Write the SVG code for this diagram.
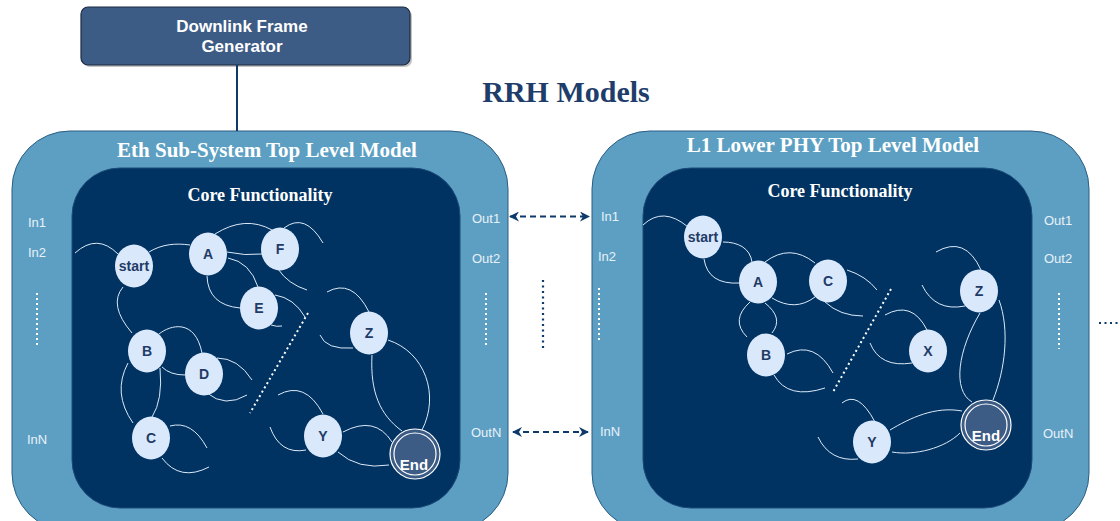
<svg xmlns="http://www.w3.org/2000/svg" width="1120" height="521" viewBox="0 0 1120 521">
<defs>
<marker id="ah" viewBox="0 0 10 10" refX="9" refY="5" markerWidth="5" markerHeight="5" orient="auto-start-reverse">
<path d="M0,0 L10,5 L0,10 L3,5 z" fill="#0d3a6b"/>
</marker>
<style>
.outer{fill:#5d9fc2;stroke:#2b5d84;stroke-width:1}
.inner{fill:#003362;stroke:#1c4a78;stroke-width:1}
.ptitle{font-family:"Liberation Serif",serif;font-weight:bold;font-size:21px;fill:#ffffff;text-anchor:middle}
.core{font-family:"Liberation Serif",serif;font-weight:bold;font-size:18px;fill:#ffffff;text-anchor:middle}
.port{font-family:"Liberation Sans",Arial,sans-serif;font-size:13px;fill:#e8f1fa}
.node{fill:#dae8fc;stroke:none}
.nt{font-family:"Liberation Sans",Arial,sans-serif;font-weight:bold;font-size:14px;fill:#1f3b66;text-anchor:middle}
.edge{fill:none;stroke:#dce9f7;stroke-width:1}
.wdot{fill:none;stroke:#ffffff;stroke-width:2;stroke-dasharray:2 3}
.bdot{fill:none;stroke:#0d3a6b;stroke-width:2.2;stroke-dasharray:2 3.5}
.endo{fill:#3d5c85;stroke:#ffffff;stroke-width:1.2}
.endi{fill:none;stroke:#ffffff;stroke-width:1.2}
.et{font-family:"Liberation Sans",Arial,sans-serif;font-weight:bold;font-size:15px;fill:#ffffff;text-anchor:middle}
.gt{font-family:"Liberation Sans",Arial,sans-serif;font-weight:bold;font-size:17px;fill:#ffffff;text-anchor:middle}
</style>
</defs>
<rect width="1120" height="521" fill="#ffffff"/>

<g id="generator">
<rect x="83" y="9" width="329" height="58" rx="7" fill="#8a8a8a" opacity="0.5"/>
<rect x="81" y="7" width="329" height="58" rx="7" fill="#3d5c85" stroke="#1b2b40" stroke-width="1.2"/>
<text class="gt" x="242" y="32">Downlink Frame</text>
<text class="gt" x="242" y="52">Generator</text>
</g>

<text id="title" x="566" y="102" font-family="Liberation Serif,serif" font-weight="bold" font-size="30" fill="#1e3d6b" text-anchor="middle">RRH Models</text>

<g id="eth-model">
<rect class="outer" x="12" y="131" width="496" height="400" rx="58"/>
<rect class="inner" x="72" y="168" width="388" height="340" rx="48"/>
<text class="ptitle" x="267" y="157">Eth Sub-System Top Level Model</text>
<text class="core" x="260" y="201">Core Functionality</text>
<text class="port" x="28" y="227">In1</text>
<text class="port" x="28" y="257">In2</text>
<line class="wdot" x1="37" y1="293" x2="37" y2="348"/>
<text class="port" x="27" y="444">InN</text>
<text class="port" x="472" y="223">Out1</text>
<text class="port" x="472" y="263">Out2</text>
<line class="wdot" x1="486" y1="293" x2="486" y2="348"/>
<text class="port" x="471" y="437">OutN</text>
<g id="eth-edges">
<path class="edge" d="M75,253 Q97,233 118,254"/>
<path class="edge" d="M149,252 C162,244 176,243 190,245"/>
<path class="edge" d="M215,234 Q245,215 272,230"/>
<path class="edge" d="M227,252 Q245,256 262,254"/>
<path class="edge" d="M284,228 Q305,212 323,243"/>
<path class="edge" d="M278,269 Q288,284 307,290"/>
<path class="edge" d="M228,258 Q250,262 258,287"/>
<path class="edge" d="M207,276 Q208,305 240,308"/>
<path class="edge" d="M275,295 Q294,298 305,317"/>
<path class="edge" d="M271,325 Q277,327 282,326"/>
<path class="edge" d="M123,287 Q108,305 132,333"/>
<path class="edge" d="M159,334 C170,325 195,318 202,353"/>
<path class="edge" d="M162,367 Q170,375 185,375"/>
<path class="edge" d="M217,358 Q238,358 252,380"/>
<path class="edge" d="M207,393 Q225,408 247,395"/>
<path class="edge" d="M128,363 Q112,393 133,423"/>
<path class="edge" d="M160,368 Q163,400 152,417"/>
<path class="edge" d="M170,426 Q192,420 207,448"/>
<path class="edge" d="M162,458 Q180,482 209,467"/>
<path class="edge" d="M327,292 Q352,278 369,312"/>
<path class="edge" d="M320,335 Q326,350 353,348"/>
<path class="edge" d="M388,340 C425,352 440,395 422,430"/>
<path class="edge" d="M372,355 C370,392 380,415 402,431"/>
<path class="edge" d="M278,395 Q305,380 323,414"/>
<path class="edge" d="M270,427 Q280,455 306,450"/>
<path class="edge" d="M343,432 Q375,415 392,442"/>
<path class="edge" d="M338,452 Q358,470 389,465"/>
<line class="wdot" x1="308" y1="313" x2="250" y2="413"/>
</g>
<g id="eth-start"><ellipse class="node" cx="134" cy="266" rx="19" ry="21.5"/><text class="nt" x="134" y="271">start</text></g>
<g id="eth-A"><ellipse class="node" cx="208" cy="254" rx="19" ry="21.5"/><text class="nt" x="208" y="259">A</text></g>
<g id="eth-F"><ellipse class="node" cx="280" cy="249" rx="19" ry="21.5"/><text class="nt" x="280" y="254">F</text></g>
<g id="eth-E"><ellipse class="node" cx="259" cy="308" rx="19" ry="21.5"/><text class="nt" x="259" y="313">E</text></g>
<g id="eth-B"><ellipse class="node" cx="147" cy="351" rx="19" ry="21.5"/><text class="nt" x="147" y="356">B</text></g>
<g id="eth-D"><ellipse class="node" cx="204" cy="374" rx="19" ry="21.5"/><text class="nt" x="204" y="379">D</text></g>
<g id="eth-C"><ellipse class="node" cx="151" cy="438" rx="19" ry="21.5"/><text class="nt" x="151" y="443">C</text></g>
<g id="eth-Z"><ellipse class="node" cx="369" cy="333" rx="19" ry="21.5"/><text class="nt" x="369" y="338">Z</text></g>
<g id="eth-Y"><ellipse class="node" cx="323" cy="436" rx="19" ry="21.5"/><text class="nt" x="323" y="441">Y</text></g>
<g id="eth-End"><circle class="endo" cx="415" cy="454" r="25"/><circle class="endi" cx="415" cy="454" r="21"/><text class="et" x="414" y="470">End</text></g>
</g>

<g id="l1-model">
<rect class="outer" x="592" y="131" width="497" height="400" rx="58"/>
<rect class="inner" x="643" y="168" width="389" height="340" rx="48"/>
<text class="ptitle" x="833" y="152">L1 Lower PHY Top Level Model</text>
<text class="core" x="840" y="197">Core Functionality</text>
<text class="port" x="601" y="221">In1</text>
<text class="port" x="598" y="261">In2</text>
<line class="wdot" x1="599" y1="288" x2="599" y2="343"/>
<text class="port" x="600" y="436">InN</text>
<text class="port" x="1044" y="225">Out1</text>
<text class="port" x="1044" y="263">Out2</text>
<line class="wdot" x1="1059" y1="293" x2="1059" y2="349"/>
<text class="port" x="1043" y="438">OutN</text>
<g id="l1-edges">
<path class="edge" d="M643,225 Q663,206 688,227"/>
<path class="edge" d="M723,242 C738,242 750,248 752,262"/>
<path class="edge" d="M704,259 Q708,285 740,283"/>
<path class="edge" d="M765,262 Q790,243 815,263"/>
<path class="edge" d="M772,298 Q795,312 815,297"/>
<path class="edge" d="M847,270 Q866,276 877,290"/>
<path class="edge" d="M825,302 Q840,316 863,316"/>
<path class="edge" d="M750,302 Q730,320 747,337"/>
<path class="edge" d="M765,303 Q784,318 772,333"/>
<path class="edge" d="M787,354 Q815,340 833,373"/>
<path class="edge" d="M774,375 Q788,400 825,388"/>
<path class="edge" d="M885,315 Q912,300 927,330"/>
<path class="edge" d="M870,343 Q880,368 912,363"/>
<path class="edge" d="M936,252 Q965,235 981,270"/>
<path class="edge" d="M922,285 Q935,312 965,306"/>
<path class="edge" d="M980,313 C958,350 952,390 972,402"/>
<path class="edge" d="M999,300 C1010,330 1005,370 993,400"/>
<path class="edge" d="M842,403 Q858,390 875,422"/>
<path class="edge" d="M818,437 Q830,462 858,459"/>
<path class="edge" d="M890,430 C910,418 935,406 962,411"/>
<path class="edge" d="M892,452 C915,456 945,448 960,433"/>
<line class="wdot" x1="891" y1="289" x2="833" y2="392"/>
</g>
<g id="l1-start"><ellipse class="node" cx="703" cy="237" rx="19" ry="21.5"/><text class="nt" x="703" y="242">start</text></g>
<g id="l1-A"><ellipse class="node" cx="758" cy="282" rx="19" ry="21.5"/><text class="nt" x="758" y="287">A</text></g>
<g id="l1-C"><ellipse class="node" cx="828" cy="281" rx="19" ry="21.5"/><text class="nt" x="828" y="286">C</text></g>
<g id="l1-B"><ellipse class="node" cx="766" cy="355" rx="19" ry="21.5"/><text class="nt" x="766" y="360">B</text></g>
<g id="l1-X"><ellipse class="node" cx="928" cy="351" rx="19" ry="21.5"/><text class="nt" x="928" y="356">X</text></g>
<g id="l1-Z"><ellipse class="node" cx="979" cy="291" rx="19" ry="21.5"/><text class="nt" x="979" y="296">Z</text></g>
<g id="l1-Y"><ellipse class="node" cx="872" cy="442" rx="19" ry="21.5"/><text class="nt" x="872" y="447">Y</text></g>
<g id="l1-End"><circle class="endo" cx="986" cy="425" r="25"/><circle class="endi" cx="986" cy="425" r="21"/><text class="et" x="986" y="441">End</text></g>
</g>

<g id="connectors">
<line x1="237" y1="65" x2="237" y2="131" stroke="#0d3a6b" stroke-width="2"/>
<line x1="510" y1="216.5" x2="589" y2="216.5" stroke="#0d3a6b" stroke-width="2" stroke-dasharray="6 4" marker-start="url(#ah)" marker-end="url(#ah)"/>
<line x1="513" y1="432" x2="588" y2="432" stroke="#0d3a6b" stroke-width="2" stroke-dasharray="6 4" marker-start="url(#ah)" marker-end="url(#ah)"/>
<line class="bdot" x1="543" y1="280" x2="543" y2="349"/>
<line class="bdot" x1="1099" y1="323" x2="1120" y2="323"/>
</g>
</svg>
